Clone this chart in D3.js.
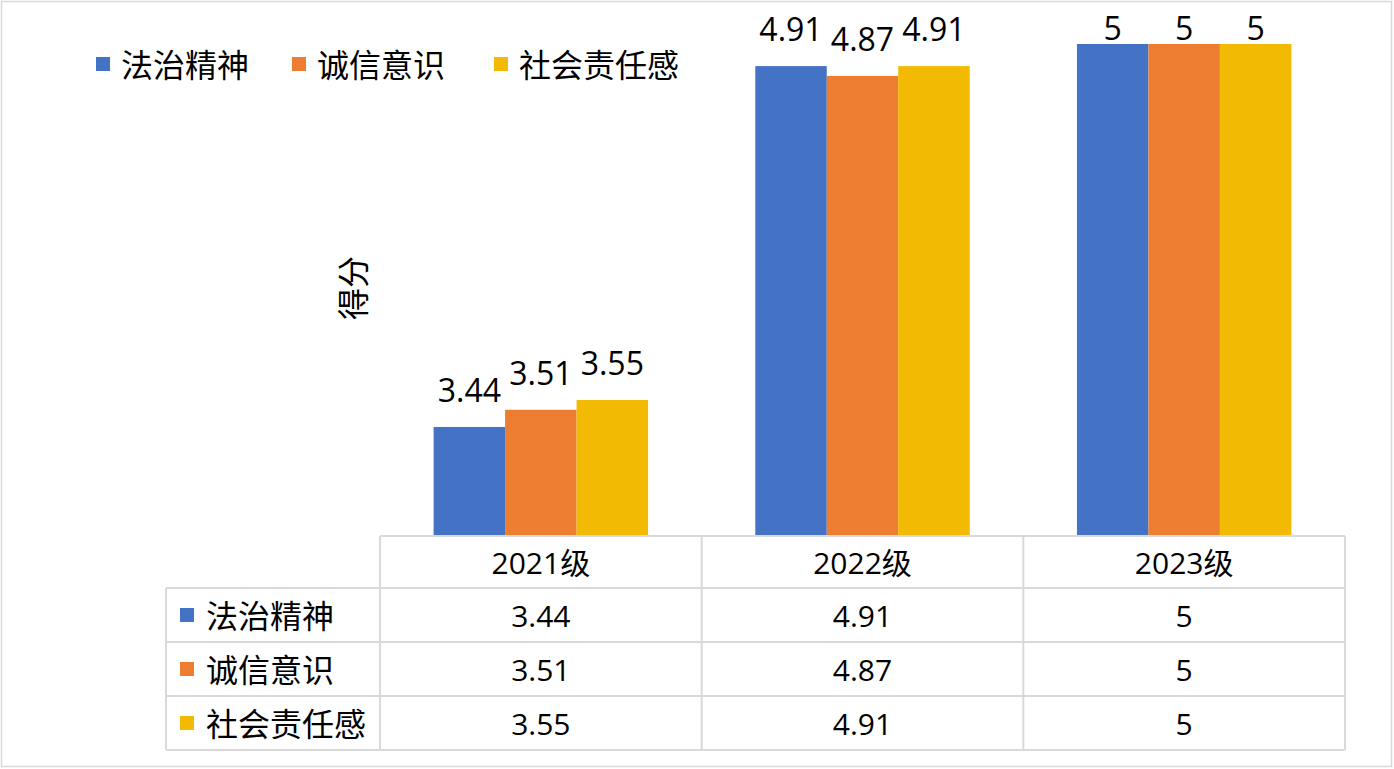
<!DOCTYPE html>
<html>
<head>
<meta charset="utf-8">
<script src="https://cdn.jsdelivr.net/npm/d3@7"></script>
<style>
  html, body { margin: 0; padding: 0; background: #fff; }
  svg text { font-family: "Open Sans", "Noto Sans CJK SC", sans-serif; fill: #000; }
</style>
</head>
<body>
<svg id="chart" width="1394" height="769"></svg>
<script>
const categories = ["2021级", "2022级", "2023级"];
const seriesNames = ["法治精神", "诚信意识", "社会责任感"];
const seriesColors = ["#4472C4", "#ED7D31", "#F2BA02"];
const fazhi = [3.44, 4.91, 5];
const chengxin = [3.51, 4.87, 5];
const shehui = [3.55, 4.91, 5];
const yDomain = [3, 5];
const yTitle = "得分";

const seriesValues = [fazhi, chengxin, shehui];

const svg = d3.select("#chart");
const W = 1394, H = 769;

// outer border
svg.append("rect").attr("x", 1.5).attr("y", 1.5).attr("width", W - 4).attr("height", H - 4)
  .attr("fill", "#fff").attr("stroke", "#d9d9d9").attr("stroke-width", 1.5);

const plotLeft = 380, plotRight = 1345, plotTop = 44, plotBottom = 535;
const x = d3.scaleBand().domain(categories).range([plotLeft, plotRight]).paddingInner(0).paddingOuter(0);
const xs = d3.scaleBand().domain(seriesNames).range([0, x.bandwidth()]).paddingInner(0).paddingOuter(0.75);
const y = d3.scaleLinear().domain(yDomain).range([plotBottom, plotTop]);

// bars
const groups = svg.append("g").selectAll("g").data(categories).join("g")
  .attr("transform", d => `translate(${x(d)},0)`);

groups.each(function(cat, ci) {
  const g = d3.select(this);
  seriesNames.forEach((s, si) => {
    const v = seriesValues[si][ci];
    g.append("rect")
      .attr("x", xs(s)).attr("width", xs.bandwidth())
      .attr("y", y(v)).attr("height", y(yDomain[0]) - y(v))
      .attr("fill", seriesColors[si]);
    g.append("text")
      .attr("x", xs(s) + xs.bandwidth() / 2)
      .attr("y", Math.max(y(v) - 25, 40))
      .attr("text-anchor", "middle")
      .attr("font-size", 32)
      .text(v);
  });
});

// y title
svg.append("text")
  .attr("transform", `translate(365,288) rotate(-90)`)
  .attr("text-anchor", "middle")
  .attr("font-size", 32)
  .text(yTitle);

// legend
const legendX = [96, 292, 494];
seriesNames.forEach((s, i) => {
  svg.append("rect").attr("x", legendX[i]).attr("y", 57).attr("width", 14).attr("height", 14).attr("fill", seriesColors[i]);
  svg.append("text").attr("x", legendX[i] + 25).attr("y", 64).attr("dominant-baseline", "central")
    .attr("font-size", 32).text(s);
});

// data table
const tableLeft = 166;
const rowEdges = [536, 588, 642, 696, 750];
const lineColor = "#d9d9d9";
const tg = svg.append("g");
tg.append("line").attr("x1", plotLeft).attr("x2", plotRight).attr("y1", rowEdges[0]).attr("y2", rowEdges[0])
  .attr("stroke", lineColor).attr("stroke-width", 2);
rowEdges.slice(1).forEach(ry => {
  tg.append("line").attr("x1", tableLeft).attr("x2", plotRight).attr("y1", ry).attr("y2", ry)
    .attr("stroke", lineColor).attr("stroke-width", 2);
});
tg.append("line").attr("x1", tableLeft).attr("x2", tableLeft).attr("y1", rowEdges[1]).attr("y2", rowEdges[4])
  .attr("stroke", lineColor).attr("stroke-width", 2);
categories.forEach(c => {
  tg.append("line").attr("x1", x(c)).attr("x2", x(c)).attr("y1", rowEdges[0]).attr("y2", rowEdges[4])
    .attr("stroke", lineColor).attr("stroke-width", 2);
});
tg.append("line").attr("x1", plotRight).attr("x2", plotRight).attr("y1", rowEdges[0]).attr("y2", rowEdges[4])
  .attr("stroke", lineColor).attr("stroke-width", 2);

// header
categories.forEach(c => {
  tg.append("text").attr("x", x(c) + x.bandwidth() / 2).attr("y", (rowEdges[0] + rowEdges[1]) / 2)
    .attr("text-anchor", "middle").attr("dominant-baseline", "central").attr("font-size", 30).text(c);
});
// rows
seriesNames.forEach((s, si) => {
  const cy = (rowEdges[si + 1] + rowEdges[si + 2]) / 2;
  tg.append("rect").attr("x", 180).attr("y", cy - 7).attr("width", 14).attr("height", 14).attr("fill", seriesColors[si]);
  tg.append("text").attr("x", 206).attr("y", cy).attr("dominant-baseline", "central").attr("font-size", 32).text(s);
  categories.forEach((c, ci) => {
    tg.append("text").attr("x", x(c) + x.bandwidth() / 2).attr("y", cy)
      .attr("text-anchor", "middle").attr("dominant-baseline", "central").attr("font-size", 30)
      .text(seriesValues[si][ci]);
  });
});
</script>
</body>
</html>
